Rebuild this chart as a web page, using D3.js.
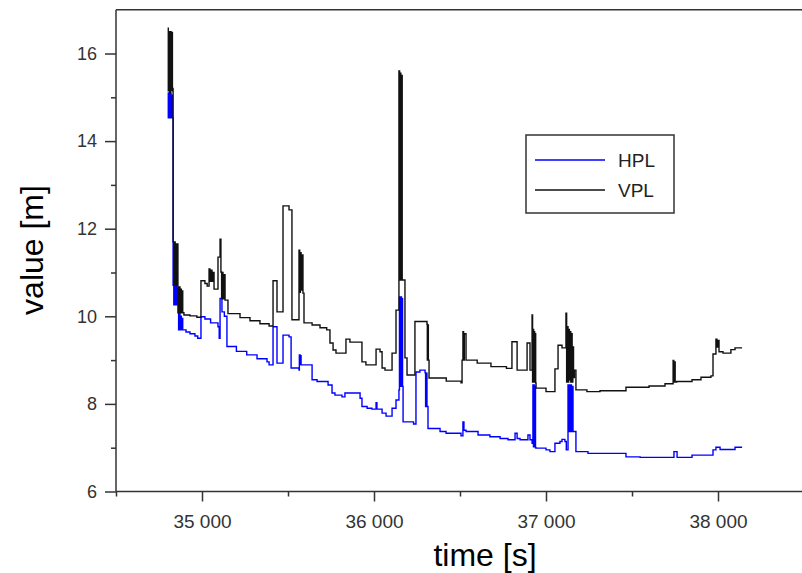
<!DOCTYPE html>
<html>
<head>
<meta charset="utf-8">
<script src="https://cdn.jsdelivr.net/npm/d3@7"></script>
<style>
  body { margin: 0; background: #fff; }
  text { font-family: "Liberation Sans", Arial, sans-serif; }
</style>
</head>
<body>
<div id="div_graph"></div>
<script>
// HPL / VPL protection levels (step series)
var hplTime = [34800,34804,34808,34812,34816,34820,34824,34828,
  34832,34836,34840,34844,34848,34852,34856,
  34860,34864,34868,34872,34876,34880,34884,34888,
  34907,34930,34959,34975,
  34994,35017,35050,35093,35100,
  35105,35116,35130,35145,
  35200,35260,35320,35378,35390,
  35413,35436,35471,35506,35518,35564,
  35566,35570,35574,35576,
  35640,35669,35733,35756,35773,35814,35831,35860,35919,
  35930,35960,35988,36012,36017,36047,36070,36105,36128,
  36145,36148,36152,36156,36160,36163,36166,
  36169,36230,36244,36267,36297,
  36300,36304,36308,
  36314,36384,36419,36506,36517,36523,36535,
  36605,36674,36733,36779,36820,36832,36849,36895,36907,
  36919,36924,36927,36930,36933,36936,36939,
  36942,37000,37023,37052,37081,37093,37110,37118,
  37128,37132,37136,37140,37144,37148,37152,37157,
  37174,37244,37465,37547,37744,37762,37849,37971,37988,38012,38099,38140];
var hplValue = [15.1,14.53,15.1,14.53,15.1,14.53,15.05,14.53,
  10.71,10.26,10.71,10.26,10.7,10.26,10.65,
  10.08,9.69,10.08,9.69,10.0,9.69,9.95,9.69,
  9.64,9.6,9.55,9.5,
  9.99,9.94,9.85,9.76,9.5,
  10.41,10.1,10.0,9.31,
  9.2,9.12,9.03,8.96,8.89,
  9.76,8.93,9.57,9.53,8.82,8.77,
  9.12,8.9,9.1,8.89,
  8.55,8.51,8.43,8.25,8.2,8.16,8.25,8.25,8.13,
  7.94,7.9,7.88,8.03,7.88,7.79,7.72,7.9,8.09,
  8.32,10.44,8.4,10.44,8.4,10.4,8.4,
  7.59,7.54,8.73,8.77,8.71,
  7.94,8.7,7.94,
  7.44,7.37,7.33,7.27,7.59,7.4,7.37,
  7.29,7.25,7.21,7.18,7.33,7.21,7.18,7.29,7.18,
  7.1,8.43,7.02,8.43,7.02,8.4,7.0,
  6.99,6.95,6.91,7.1,7.14,7.19,7.14,6.95,
  8.43,7.37,8.43,7.37,8.43,7.37,8.4,7.37,
  6.91,6.87,6.79,6.78,6.91,6.78,6.83,6.95,7.01,6.96,7.01,7.01];

var vplTime = [34800,34804,34808,34812,34816,34820,34824,34828,
  34832,34836,34840,34844,34848,34852,34856,
  34860,34864,34868,34872,34876,34880,34884,34888,
  34895,34930,34970,
  34994,35017,35030,
  35041,35046,35052,35058,35064,
  35070,35093,35105,35110,35114,35118,35122,35126,35134,
  35151,35221,35279,35337,35390,
  35413,35436,35471,35506,35523,
  35564,35568,35572,35576,35580,35587,
  35593,35640,35686,35725,
  35744,35762,35779,
  35837,35860,35930,35953,
  36012,36035,36047,36064,
  36105,36128,
  36145,36149,36152,36156,36160,36164,
  36180,36192,36238,36308,
  36310,36313,36316,
  36320,36420,36506,
  36512,36517,36521,36525,36535,
  36600,36680,36770,
  36802,36832,36890,36907,
  36919,36922,36925,36928,36931,36934,36937,36940,
  36942,37000,37052,37070,37093,
  37116,37120,37124,37128,37132,37136,37140,37144,37148,37152,37156,37160,37165,
  37174,37238,37314,37465,37599,37692,
  37739,37743,37747,37751,
  37760,37849,37901,37959,
  37971,37988,37994,38000,38006,38029,38075,38099,38140];
var vplValue = [16.58,15.15,16.5,15.1,16.5,15.15,16.48,15.2,
  11.7,10.72,11.7,10.72,11.65,10.7,11.65,
  10.67,10.08,10.67,10.08,10.62,10.08,10.58,10.08,
  10.03,10.01,9.98,
  10.81,10.75,10.69,
  11.08,10.8,11.05,10.8,11.0,
  10.62,11.35,11.76,11.01,10.4,11.0,10.4,10.95,10.37,
  10.06,9.97,9.9,9.83,9.78,
  10.81,10.1,12.52,12.43,9.92,
  11.51,10.55,11.45,10.6,11.4,10.53,
  9.85,9.8,9.74,9.69,
  9.39,9.23,9.16,
  9.48,9.41,8.96,8.89,
  9.25,9.19,8.82,8.77,
  9.16,10.14,
  15.6,10.83,15.55,10.83,15.5,10.83,
  9.05,8.66,9.88,9.82,
  9.0,9.8,9.0,
  8.59,8.52,8.48,
  9.0,9.65,9.0,9.6,9.0,
  8.93,8.85,8.81,
  9.42,8.77,9.39,8.77,
  10.03,8.5,9.7,8.5,9.65,8.5,9.6,8.48,
  8.36,8.28,8.8,9.34,9.28,
  10.07,8.5,9.76,8.5,9.7,8.55,9.65,8.5,9.6,8.5,9.3,8.6,8.77,
  8.32,8.28,8.3,8.38,8.41,8.46,
  8.99,8.5,8.96,8.5,
  8.51,8.55,8.61,8.64,
  9.14,9.48,9.3,9.45,9.19,9.16,9.24,9.28,9.28];

var seriesNames = ["HPL", "VPL"];
var seriesColors = ["#0000ff", "#111111"];

var xMajor = [35000, 36000, 37000, 38000];
var xMinor = [34500, 35500, 36500, 37500];
var yMajor = [6, 8, 10, 12, 14, 16];
var yMinor = [7, 9, 11, 13, 15];

var svgWidth = 802, svgHeight = 573;
var plotLeft = 116, plotRight = 804, plotTop = 9.7, plotBottom = 491.5;
var axisColor = "#333";

function toPoints(times, values)
{
  return times.map(function(t, i) { return { t: t, v: values[i] }; });
}

function buildChart()
{
  var svg = d3.select("#div_graph").append("svg")
    .attr("width", svgWidth).attr("height", svgHeight)
    .style("display", "block");

  svg.append("rect").attr("width", svgWidth).attr("height", svgHeight).attr("fill", "#fff");

  var xScale = d3.scaleLinear().domain([34500, 38500]).range([plotLeft, plotRight]);
  var yScale = d3.scaleLinear().domain([6, 17]).range([plotBottom, plotTop]);

  var valueline = d3.line().curve(d3.curveStepAfter)
    .x(function(d) { return xScale(d.t); })
    .y(function(d) { return yScale(d.v); });

  var data = [toPoints(hplTime, hplValue), toPoints(vplTime, vplValue)];

  svg.selectAll(".line").data(data).enter().append("path")
    .attr("class", "line")
    .attr("fill", "none")
    .attr("stroke", function(d, i) { return seriesColors[i]; })
    .attr("stroke-width", 1.4)
    .attr("d", valueline);

  // frame top
  svg.append("line").attr("x1", plotLeft).attr("x2", svgWidth).attr("y1", plotTop).attr("y2", plotTop)
    .attr("stroke", axisColor).attr("stroke-width", 1.5);

  // x axis
  var xAxisCall = d3.axisBottom(xScale).tickValues(xMajor).tickSize(10).tickPadding(13)
    .tickFormat(function(e) { return d3.format(",")(e).replace(",", " "); });
  var gx = svg.append("g").attr("class", "x axis").attr("transform", "translate(0," + plotBottom + ")").call(xAxisCall);
  gx.append("g").call(d3.axisBottom(xScale).tickValues(xMinor).tickSize(5).tickFormat(""));

  // y axis
  var yAxisCall = d3.axisLeft(yScale).tickValues(yMajor).tickSize(11).tickPadding(8);
  var gy = svg.append("g").attr("class", "y axis").attr("transform", "translate(" + plotLeft + ",0)").call(yAxisCall);
  gy.append("g").call(d3.axisLeft(yScale).tickValues(yMinor).tickSize(5).tickFormat(""));

  svg.selectAll(".axis path, .axis line").attr("stroke", axisColor).attr("stroke-width", 1.5);
  svg.selectAll(".axis path.domain").attr("d", null);
  svg.selectAll(".axis text").attr("fill", "#333").style("font-size", "18px");
  gx.selectAll("text").style("font-size", "19px");

  svg.append("line").attr("x1", plotLeft).attr("x2", svgWidth).attr("y1", plotBottom).attr("y2", plotBottom)
    .attr("stroke", axisColor).attr("stroke-width", 1.5);
  svg.append("line").attr("x1", plotLeft).attr("x2", plotLeft).attr("y1", plotTop).attr("y2", plotBottom)
    .attr("stroke", axisColor).attr("stroke-width", 1.5);

  // axis titles
  svg.append("text")
    .attr("x", 485).attr("y", 566)
    .attr("text-anchor", "middle")
    .style("font-size", "32px")
    .text("time [s]");
  svg.append("text")
    .attr("transform", "translate(43,250) rotate(-90)")
    .attr("text-anchor", "middle")
    .style("font-size", "32px")
    .text("value [m]");

  // legend
  var legend = svg.append("g").attr("class", "legend");
  legend.append("rect")
    .attr("x", 526).attr("y", 135).attr("width", 148).attr("height", 78)
    .attr("fill", "#fff").attr("stroke", axisColor).attr("stroke-width", 1.5);
  seriesNames.forEach(function(name, i)
  {
    var ly = 160 + i * 30;
    legend.append("line").attr("x1", 535).attr("x2", 605).attr("y1", ly).attr("y2", ly)
      .attr("stroke", seriesColors[i]).attr("stroke-width", 1.4);
    legend.append("text").attr("x", 618).attr("y", ly + 7)
      .attr("fill", "#222").style("font-size", "19px").text(name);
  });
}

buildChart();
</script>
</body>
</html>
